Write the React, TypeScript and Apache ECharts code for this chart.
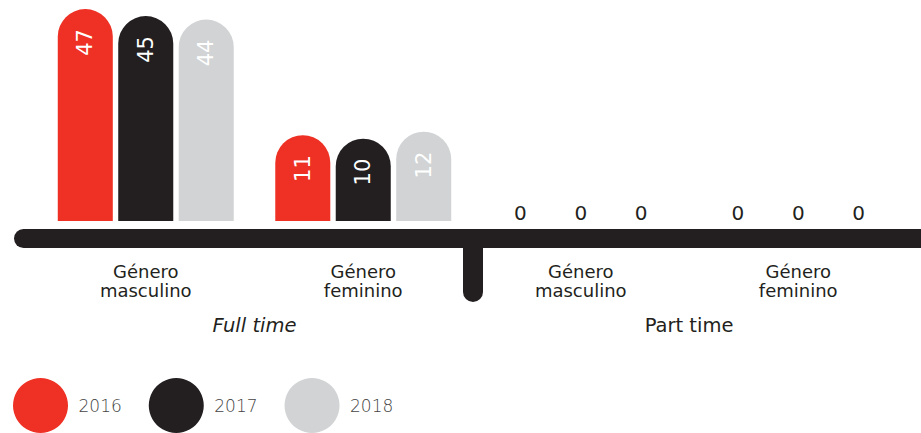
import React, { useEffect, useRef } from "react";
import * as echarts from "echarts";

const categories = ["Género\nmasculino", "Género\nfeminino", "Género\nmasculino", "Género\nfeminino"];
const groupLabels = ["Full time", "Part time"];
const years = ["2016", "2017", "2018"];
const values2016 = [47, 11, 0, 0];
const values2017 = [45, 10, 0, 0];
const values2018 = [44, 12, 0, 0];
const seriesValues = [values2016, values2017, values2018];
const colors = ["#EE3124", "#231F20", "#D1D3D4"];

const Y_MIN = -13.5;
const Y_MAX = 49.6;
const DARK = "#231F20";
const FONT = "DejaVu Sans";

export default function App() {
  const ref = useRef<HTMLDivElement>(null);
  useEffect(() => {
    document.body.style.margin = "0";
    const chart = echarts.init(ref.current!, null, { renderer: "svg" });
    const series = years.map((y, sIdx) => ({
      type: "custom",
      name: y,
      itemStyle: { color: colors[sIdx] },
      encode: { x: 0, y: 1 },
      data: seriesValues[sIdx].map((v, i) => [i, v]),
      renderItem: (params: any, api: any) => {
        const ci = api.value(0);
        const v = api.value(1);
        const band = api.size([1, 0])[0];
        const bw = band * 0.253;
        const off = (sIdx - 1) * band * 0.278;
        const top = api.coord([ci, v]);
        const base = api.coord([ci, Y_MIN]);
        const cx = top[0] + off;
        if (v === 0) {
          return {
            type: "text",
            x: cx,
            y: base[1] - 8,
            style: {
              text: "0",
              fill: DARK,
              fontSize: 20,
              fontFamily: FONT,
              align: "center",
              verticalAlign: "middle",
            },
          };
        }
        return {
          type: "group",
          children: [
            {
              type: "rect",
              shape: { x: cx - bw / 2, y: top[1], width: bw, height: base[1] - top[1], r: [bw / 2, bw / 2, 0, 0] },
              style: { fill: colors[sIdx] },
            },
            {
              type: "text",
              x: cx,
              y: top[1] + 20,
              rotation: Math.PI / 2,
              style: {
                text: String(v),
                fill: "#ffffff",
                fontSize: 21,
                fontFamily: FONT,
                align: "right",
                verticalAlign: "middle",
              },
            },
          ],
        };
      },
    }));

    chart.setOption({
      animation: false,
      grid: { left: 37, right: 14, top: 0, bottom: 212 },
      xAxis: {
        type: "category",
        data: categories,
        axisLine: { show: false },
        axisTick: { show: false },
        axisLabel: {
          margin: 41,
          fontSize: 18,
          lineHeight: 19,
          fontFamily: FONT,
          color: DARK,
          interval: 0,
        },
      },
      yAxis: { type: "value", min: Y_MIN, max: Y_MAX, show: false },
      legend: {
        data: years,
        left: 13,
        top: 378,
        padding: 0,
        icon: "circle",
        itemWidth: 56,
        itemHeight: 55,
        itemGap: 27,
        textStyle: { fontSize: 17, fontFamily: FONT, fontWeight: 300, color: "#444", width: 41, padding: [0, 0, 0, 5] },
      },
      graphic: [
        { type: "rect", shape: { x: 14, y: 229, width: 920, height: 19, r: [9.5, 0, 0, 9.5] }, style: { fill: DARK } },
        { type: "rect", shape: { x: 463, y: 236, width: 20, height: 66, r: [0, 0, 10, 10] }, style: { fill: DARK } },
        {
          type: "text",
          x: 254.5,
          y: 325,
          style: { text: groupLabels[0], fontSize: 19.5, fontStyle: "italic", fontFamily: FONT, fill: DARK, align: "center", verticalAlign: "middle" },
        },
        {
          type: "text",
          x: 689,
          y: 325,
          style: { text: groupLabels[1], fontSize: 19.5, fontFamily: FONT, fill: DARK, align: "center", verticalAlign: "middle" },
        },
      ],
      series,
    });
    return () => chart.dispose();
  }, []);
  return <div ref={ref} style={{ width: 921, height: 433 }} />;
}
